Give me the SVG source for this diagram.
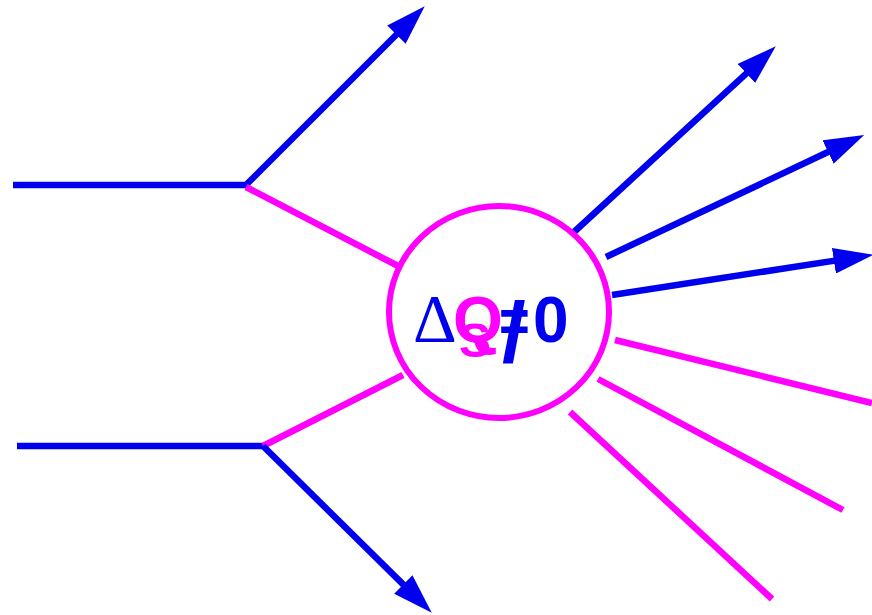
<svg xmlns="http://www.w3.org/2000/svg" width="872" height="615" viewBox="0 0 872 615">
<style>
.b{stroke:#0000ee;stroke-width:6.5;fill:none;stroke-linecap:butt}
.m{stroke:#ff00ff;stroke-width:6.5;fill:none;stroke-linecap:butt}
.t{font-family:"Liberation Sans",Arial,sans-serif;font-weight:bold}
</style>
<defs>
<marker id="ah" markerUnits="userSpaceOnUse" markerWidth="40" markerHeight="26" viewBox="0 0 37 24" refX="7" refY="12" orient="auto">
<path d="M0,0 L37,12 L0,24 z" fill="#0000ee"/>
</marker>
</defs>
<rect width="872" height="615" fill="#fff"/>
<g id="connectors">
<line class="b" x1="13" y1="185" x2="248" y2="185"/>
<line class="b" x1="246" y1="185" x2="401.8" y2="29.2" marker-end="url(#ah)"/>
<line class="m" x1="246" y1="187" x2="400" y2="267"/>
<line class="b" x1="17" y1="446" x2="265" y2="446"/>
<line class="m" x1="263" y1="446" x2="403" y2="375"/>
<line class="b" x1="263" y1="446" x2="408.7" y2="589.9" marker-end="url(#ah)"/>
<line class="b" x1="574" y1="232" x2="751.9" y2="68.3" marker-end="url(#ah)"/>
<line class="b" x1="606" y1="257" x2="834.9" y2="148.8" marker-end="url(#ah)"/>
<line class="b" x1="612" y1="295" x2="841.4" y2="259.6" marker-end="url(#ah)"/>
<line class="m" x1="615" y1="340" x2="872" y2="403"/>
<line class="m" x1="598" y1="379" x2="843" y2="510"/>
<line class="m" x1="570" y1="412" x2="772" y2="599"/>
</g>
<g id="vertex">
<ellipse cx="499" cy="312" rx="110" ry="106" fill="#fff" stroke="#ff00ff" stroke-width="6"/>
<text x="413" y="341" font-family="Liberation Serif,serif" font-size="68" fill="#0000ee">Δ</text>
<text class="t" x="453" y="342" font-size="64" fill="#ff00ff">Q</text>
<text class="t" x="459" y="357" font-size="48" fill="#ff00ff">S</text>
<text class="t" transform="translate(499,342) scale(0.85,1)" font-size="62" fill="#0000ee">=</text>
<text class="t" x="502" y="362" font-size="85" fill="#0000ee">/</text>
<text class="t" x="533" y="342" font-size="64" fill="#0000ee">0</text>
</g>
</svg>
